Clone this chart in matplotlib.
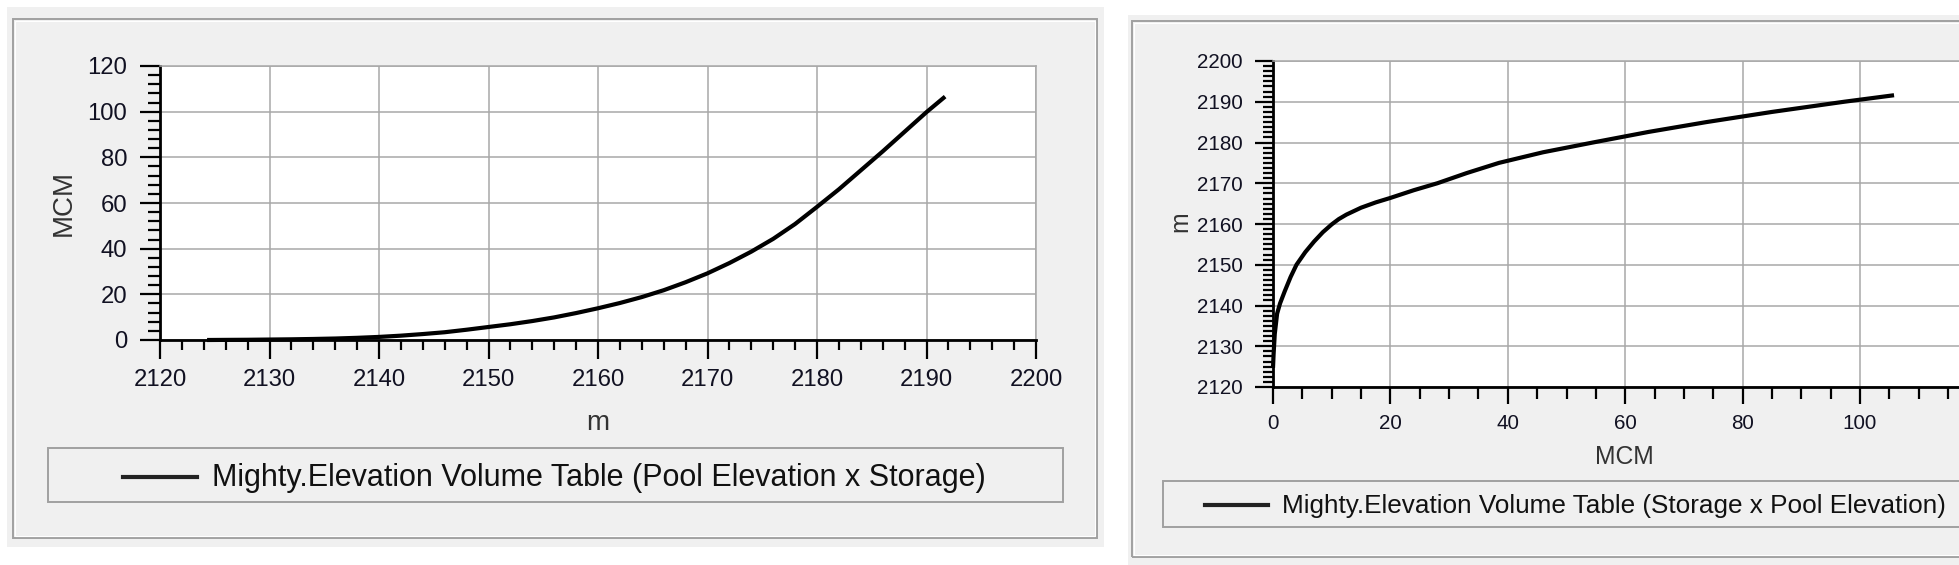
import matplotlib
matplotlib.use("Agg")
import matplotlib.pyplot as plt
from matplotlib.patches import Rectangle
from matplotlib.lines import Line2D
from matplotlib.ticker import MultipleLocator

plt.rcParams['font.family'] = ['Liberation Sans', 'DejaVu Sans']

# ---------------- data ----------------
# Left chart: Pool Elevation (m) x Storage (MCM)
left_elev = [2124.3, 2126, 2128, 2130, 2132, 2134, 2136, 2138, 2140, 2142, 2144, 2146,
             2148, 2150, 2152, 2154, 2156, 2158, 2160, 2162, 2164, 2166, 2168, 2170,
             2172, 2174, 2176, 2178, 2180, 2182, 2184, 2186, 2188, 2190, 2191.7]
left_storage = [0.0, 0.05, 0.1, 0.2, 0.3, 0.45, 0.65, 0.95, 1.35, 1.9, 2.6, 3.4,
                4.5, 5.7, 6.9, 8.3, 9.9, 11.8, 13.9, 16.2, 18.8, 21.8, 25.3, 29.2,
                33.7, 38.7, 44.3, 50.8, 58.3, 66.0, 74.3, 82.6, 91.2, 99.8, 106.6]

# Right chart: Storage (MCM) x Pool Elevation (m)
right_storage = [0.0, 0.1, 0.3, 0.7, 1.2, 2.0, 3.0, 4.0, 5.5, 7.0, 8.5, 10.0, 11.2,
                 12.5, 15.0, 17.5, 20.0, 24.0, 28.0, 33.0, 38.5, 46.0, 54.5, 64.0,
                 73.8, 85.0, 97.3, 105.8]
right_elev = [2124.7, 2128, 2133, 2138, 2140.5, 2143.5, 2147, 2150, 2153.1, 2155.7,
              2158.0, 2159.9, 2161.2, 2162.3, 2164.0, 2165.3, 2166.4, 2168.3, 2170.0,
              2172.5, 2175.0, 2177.6, 2180.0, 2182.6, 2185.0, 2187.5, 2190.0, 2191.6]

left_xticks = [2120, 2130, 2140, 2150, 2160, 2170, 2180, 2190, 2200]
left_yticks = [0, 20, 40, 60, 80, 100, 120]
right_xticks = [0, 20, 40, 60, 80, 100]
right_yticks = [2120, 2130, 2140, 2150, 2160, 2170, 2180, 2190, 2200]

left_legend = "Mighty.Elevation Volume Table (Pool Elevation x Storage)"
right_legend = "Mighty.Elevation Volume Table (Storage x Pool Elevation)"

# ---------------- layout helpers ----------------
W, H = 1959, 565
fig = plt.figure(figsize=(W / 100, H / 100), dpi=100)
fig.patch.set_facecolor('white')

def fx(x):
    return x / W

def fy(y):
    return 1 - y / H

def rect(x0, y0, x1, y1, fc, ec, lw=1.0, z=-10):
    r = Rectangle((fx(x0), fy(y1)), fx(x1) - fx(x0), fy(y0) - fy(y1),
                  transform=fig.transFigure, facecolor=fc, edgecolor=ec,
                  linewidth=lw, zorder=z)
    fig.add_artist(r)

PANEL = '#f0f0f0'
BORDER = '#a0a0a0'
GRID = '#a8a8a8'

# panels
rect(7, 7, 1104, 547, PANEL, 'none', z=-20)
rect(13, 19, 1097, 538, 'none', BORDER, lw=1.4, z=-15)
rect(15, 21, 1095, 536, 'none', 'white', lw=0.8, z=-15)
rect(1128, 15, 1990, 580, PANEL, 'none', z=-20)
rect(1132, 21, 1990, 557, 'none', BORDER, lw=1.4, z=-15)
rect(1134, 23, 1990, 555, 'none', 'white', lw=0.8, z=-15)

def style_axes(ax, xmaj, xmin, ymaj, ymin, lab_size, xpad, ypad, xlen, ylen):
    ax.set_facecolor('white')
    ax.grid(True, color=GRID, linewidth=1.1, zorder=0)
    ax.set_axisbelow(True)
    for s in ['top', 'right']:
        ax.spines[s].set_color(GRID)
        ax.spines[s].set_linewidth(1.1)
    for s in ['left', 'bottom']:
        ax.spines[s].set_color('black')
        ax.spines[s].set_linewidth(2.0)
    ax.set_xticks(xmaj)
    ax.set_yticks(ymaj)
    ax.xaxis.set_minor_locator(MultipleLocator(xmin))
    ax.yaxis.set_minor_locator(MultipleLocator(ymin))
    ax.tick_params(axis='x', which='major', direction='out', length=xlen[0], width=1.6,
                   labelsize=lab_size, pad=xpad, colors='black', labelcolor='#111122')
    ax.tick_params(axis='x', which='minor', direction='out', length=xlen[1], width=1.6)
    ax.tick_params(axis='y', which='major', direction='out', length=ylen[0], width=1.6,
                   labelsize=lab_size, pad=ypad, colors='black', labelcolor='#111122')
    ax.tick_params(axis='y', which='minor', direction='out', length=ylen[1], width=1.6)

# ---------------- left chart ----------------
axL = fig.add_axes([fx(160), fy(340), fx(1036) - fx(160), fy(66) - fy(340)])
axL.plot(left_elev, left_storage, color='black', linewidth=3.0, solid_capstyle='butt',
         clip_on=False, zorder=5)
axL.set_xlim(2120, 2200)
axL.set_ylim(0, 120)
style_axes(axL, left_xticks, 2, left_yticks, 4, 17.2, 7.5, 9.0, (13.5, 7.5), (14.5, 8.5))

fig.text(fx(598), fy(430), 'm', ha='center', va='baseline', fontsize=20, color='#333333')
fig.text(fx(64), fy(203), 'MCM', ha='center', va='center', rotation=90, fontsize=20,
         color='#333333')

# left legend
rect(48, 448, 1063, 502, PANEL, BORDER, lw=1.4, z=-5)
fig.add_artist(Line2D([fx(123), fx(197)], [fy(477), fy(477)], color='#222222',
                      linewidth=3.0, transform=fig.transFigure))
fig.text(fx(212), fy(486), left_legend, ha='left', va='baseline', fontsize=22,
         color='#111111')

# ---------------- right chart ----------------
axR = fig.add_axes([fx(1273), fy(387), fx(1977.4) - fx(1273), fy(61) - fy(387)])
axR.plot(right_storage, right_elev, color='black', linewidth=3.0, solid_capstyle='butt',
         clip_on=False, zorder=5)
axR.set_xlim(0, 120)
axR.set_ylim(2120, 2200)
style_axes(axR, right_xticks, 5, right_yticks, 1.25, 14.9, 7.2, 8.6, (12.5, 8.5), (13, 7))

fig.text(fx(1624), fy(464), 'MCM', ha='center', va='baseline', fontsize=17.8,
         color='#333333')
fig.text(fx(1180), fy(222), 'm', ha='center', va='center', rotation=90, fontsize=17.8,
         color='#333333')

# right legend
rect(1163, 481, 1990, 527, PANEL, BORDER, lw=1.4, z=-5)
fig.add_artist(Line2D([fx(1205), fx(1268)], [fy(505), fy(505)], color='#222222',
                      linewidth=3.0, transform=fig.transFigure))
fig.text(fx(1282), fy(513), right_legend, ha='left', va='baseline', fontsize=18.8,
         color='#111111')

fig.savefig('out.png', dpi=100, facecolor='white')
